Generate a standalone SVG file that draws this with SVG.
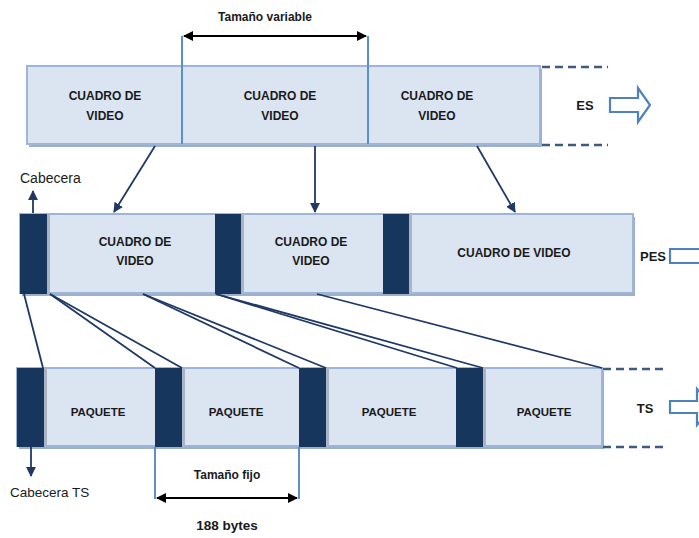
<svg xmlns="http://www.w3.org/2000/svg" width="699" height="538" viewBox="0 0 699 538">
<style>
.bar{fill:#dbe4f1;stroke:#9cb5d8;stroke-width:2}
.shadow{fill:#9eafc8}
.hdr{fill:#17365d}
.hshadow{fill:#aab4c2}
.lbl{font-family:"Liberation Sans",Arial,sans-serif;font-weight:bold;font-size:12px;fill:#1a1a1a;text-anchor:middle}
.big{font-family:"Liberation Sans",Arial,sans-serif;font-size:14px;fill:#1a1a1a}
.conn{stroke:#1f3864;stroke-width:1.8;fill:none}
.dash{stroke:#3d5a80;stroke-width:2.5;stroke-dasharray:8,5;fill:none}
.dim{stroke:#5b8fd0;stroke-width:2;fill:none}
.hollow{fill:#ffffff;stroke:#4f81bd;stroke-width:2.2}
</style>
<defs>
<marker id="ah" viewBox="0 0 10 10" refX="9" refY="5" markerWidth="5.5" markerHeight="5.5" orient="auto">
<path d="M0,0 L10,5 L0,10 z" fill="#1f3864"/>
</marker>
<marker id="bh" viewBox="0 0 10 10" refX="9" refY="5" markerWidth="5.5" markerHeight="5" orient="auto-start-reverse">
<path d="M0,0 L10,5 L0,10 z" fill="#000000"/>
</marker>
</defs>
<rect width="699" height="538" fill="#ffffff"/>

<!-- ES row -->
<g id="es-row">
<rect class="shadow" x="29" y="69" width="513" height="78"/>
<rect class="bar" x="27" y="66" width="513" height="78"/>
<text class="lbl" x="105" y="100">CUADRO DE</text>
<text class="lbl" x="105" y="120">VIDEO</text>
<text class="lbl" x="280" y="100">CUADRO DE</text>
<text class="lbl" x="280" y="120">VIDEO</text>
<text class="lbl" x="437" y="100">CUADRO DE</text>
<text class="lbl" x="437" y="120">VIDEO</text>
<path class="dash" d="M542,67 H608 M542,145 H608"/>
<text class="lbl" x="585" y="110" style="font-size:13px">ES</text>
<path class="hollow" d="M610,98 H638 V88 L650,105 L638,122 V112 H610 Z"/>
</g>

<g id="es-dimension">
<path class="dim" d="M182,36 V144 M368,36 V144"/>
<line x1="184" y1="36" x2="366" y2="36" stroke="#000" stroke-width="2" marker-start="url(#bh)" marker-end="url(#bh)"/>
<text class="lbl" x="265" y="21">Tamaño variable</text>
</g>

<!-- PES row -->
<g id="pes-row">
<rect class="shadow" x="22" y="217" width="613" height="79"/>
<rect class="bar" x="20" y="214" width="613" height="79"/>
<rect class="hshadow" x="47" y="214" width="3" height="79"/>
<rect class="hshadow" x="241" y="214" width="3" height="79"/>
<rect class="hshadow" x="409" y="214" width="3" height="79"/>
<rect class="hdr" x="20" y="214" width="27" height="80"/>
<rect class="hdr" x="215" y="214" width="26" height="80"/>
<rect class="hdr" x="383" y="214" width="26" height="80"/>
<text class="lbl" x="135" y="246">CUADRO DE</text>
<text class="lbl" x="135" y="265">VIDEO</text>
<text class="lbl" x="311" y="246">CUADRO DE</text>
<text class="lbl" x="311" y="265">VIDEO</text>
<text class="lbl" x="514" y="257">CUADRO DE VIDEO</text>
<text class="lbl" x="653" y="261" style="font-size:13px">PES</text>
<path class="hollow" d="M670,249 H705 V263 H670 Z"/>
</g>

<g id="cabecera">
<text class="big" x="20" y="183">Cabecera</text>
</g>

<!-- TS row -->
<g id="ts-row">
<rect class="shadow" x="19" y="371" width="585" height="78"/>
<rect class="bar" x="17" y="368" width="585" height="78"/>
<rect class="hshadow" x="44" y="368" width="3" height="78"/>
<rect class="hshadow" x="182" y="368" width="3" height="78"/>
<rect class="hshadow" x="326" y="368" width="3" height="78"/>
<rect class="hshadow" x="483" y="368" width="3" height="78"/>
<rect class="hdr" x="17" y="368" width="27" height="79"/>
<rect class="hdr" x="155" y="368" width="27" height="79"/>
<rect class="hdr" x="299" y="368" width="27" height="79"/>
<rect class="hdr" x="456" y="368" width="27" height="79"/>
<text class="lbl" x="98" y="416" style="font-size:11.5px">PAQUETE</text>
<text class="lbl" x="236" y="416" style="font-size:11.5px">PAQUETE</text>
<text class="lbl" x="389" y="416" style="font-size:11.5px">PAQUETE</text>
<text class="lbl" x="544" y="416" style="font-size:11.5px">PAQUETE</text>
<path class="dash" d="M603,369 H668 M603,447 H668"/>
<text class="lbl" x="645" y="413" style="font-size:13px">TS</text>
<path class="hollow" d="M670,401 H697 V389 L712,407 L697,425 V413 H670 Z"/>
</g>

<g id="cabecera-ts">
<text class="big" x="10" y="497" style="font-size:13.5px">Cabecera TS</text>
</g>

<g id="ts-dimension">
<path class="dim" d="M155,447 V499 M299,447 V499"/>
<line x1="157" y1="498" x2="297" y2="498" stroke="#000" stroke-width="2" marker-start="url(#bh)" marker-end="url(#bh)"/>
<text class="lbl" x="227" y="479">Tamaño fijo</text>
<text class="lbl" x="227" y="530" style="font-size:13.5px">188 bytes</text>
</g>

<!-- connectors -->
<g id="connectors">
<line class="conn" x1="155" y1="146" x2="114" y2="212" marker-end="url(#ah)"/>
<line class="conn" x1="315" y1="146" x2="315" y2="212" marker-end="url(#ah)"/>
<line class="conn" x1="477" y1="146" x2="515" y2="212" marker-end="url(#ah)"/>
<line class="conn" x1="33" y1="213" x2="33" y2="191" marker-end="url(#ah)"/>
<line class="conn" x1="31" y1="447" x2="31" y2="476" marker-end="url(#ah)"/>
<line class="conn" x1="24" y1="294" x2="43" y2="368"/>
<line class="conn" x1="50" y1="294" x2="155" y2="368"/>
<line class="conn" x1="50" y1="294" x2="182" y2="368"/>
<line class="conn" x1="143" y1="294" x2="299" y2="368"/>
<line class="conn" x1="143" y1="294" x2="326" y2="368"/>
<line class="conn" x1="216" y1="294" x2="457" y2="368"/>
<line class="conn" x1="216" y1="294" x2="483" y2="368"/>
<line class="conn" x1="317" y1="294" x2="602" y2="368"/>
</g>
</svg>
